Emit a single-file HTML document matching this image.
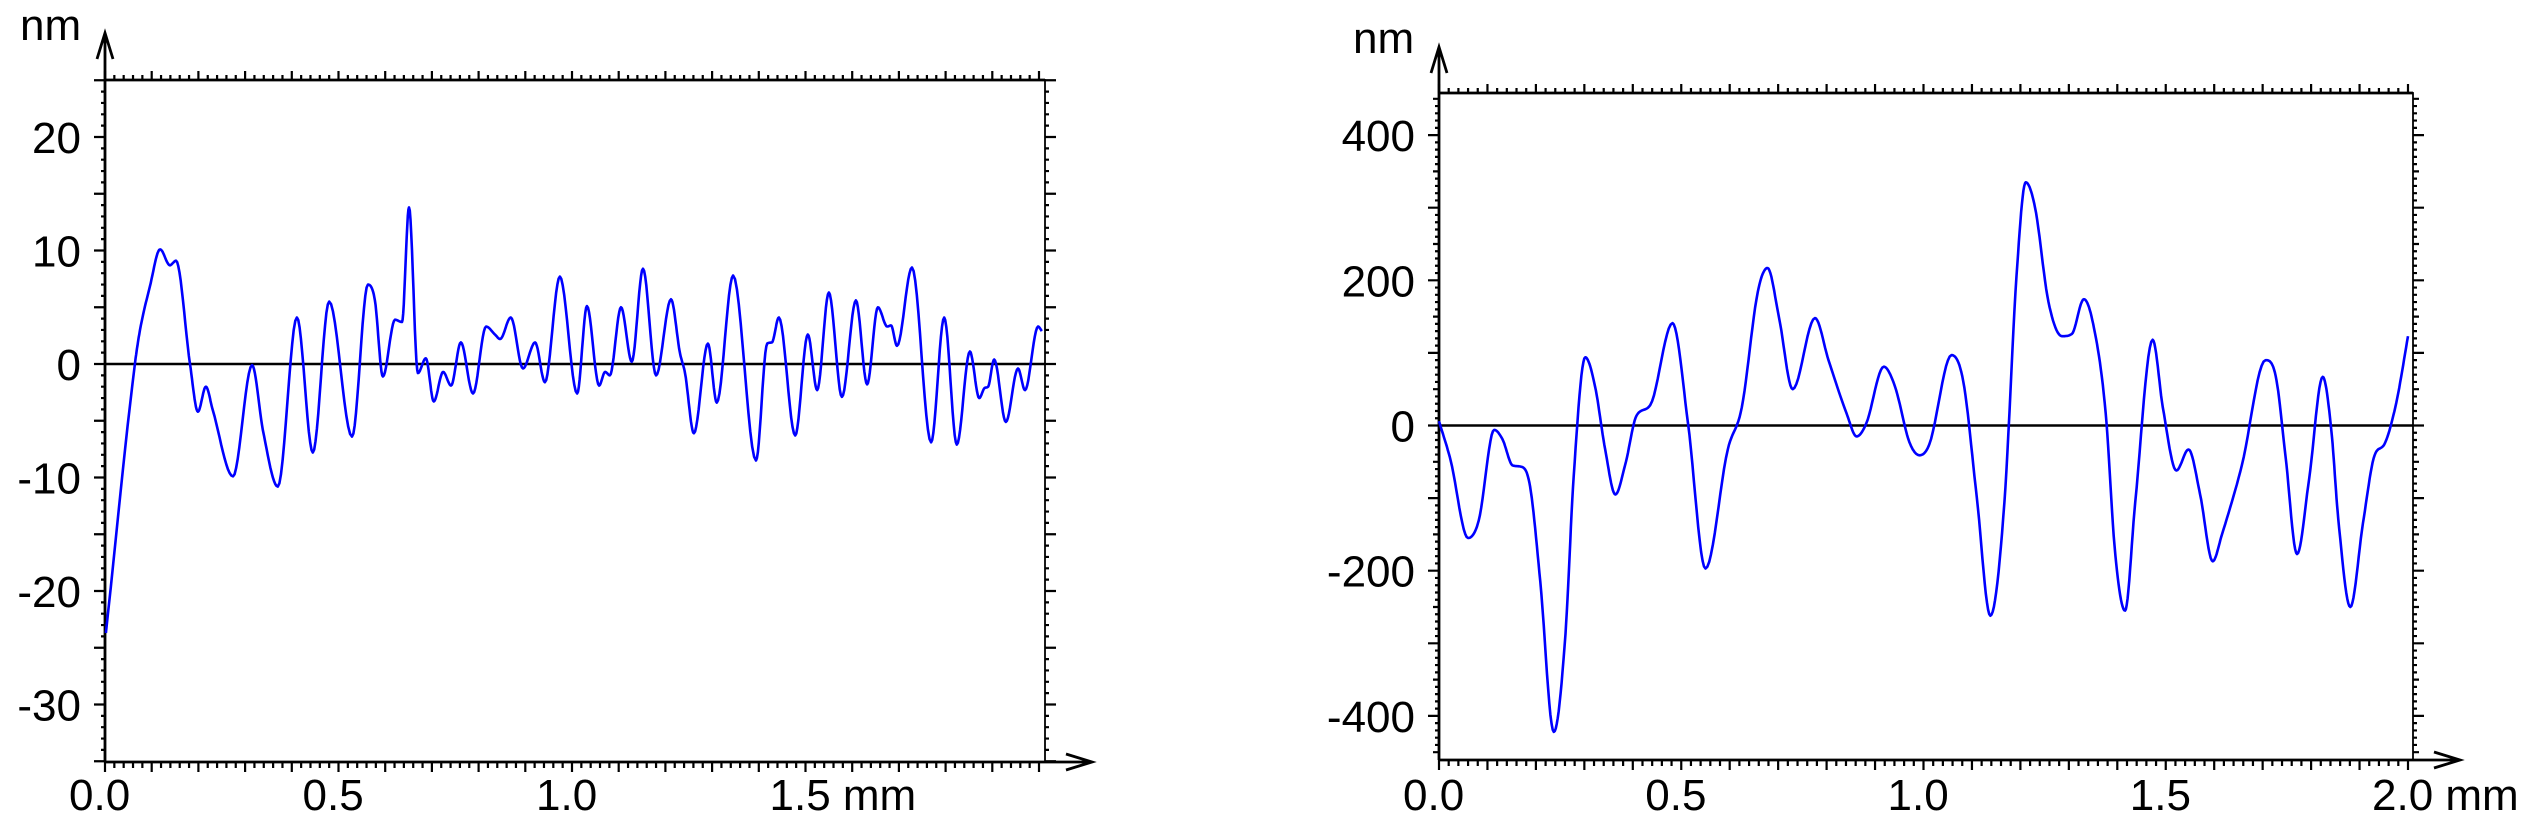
<!DOCTYPE html>
<html><head><meta charset="utf-8"><style>
html,body{margin:0;padding:0;background:#fff;}
svg{display:block;font-family:"Liberation Sans",Arial,sans-serif;}
</style></head><body>
<svg id="root" width="2545" height="830" viewBox="0 0 2545 830" xmlns="http://www.w3.org/2000/svg">
<g id="left"></g>
<g id="right"></g>
</svg>
<script>
// Left profile data (mm, nm)
const leftX = [0.002,0.064,0.075,0.096,0.118,0.139,0.152,0.182,0.199,0.216,0.231,0.274,0.315,0.338,0.370,0.411,0.445,0.480,0.529,0.563,0.578,0.595,0.621,0.636,0.651,0.670,0.687,0.704,0.724,0.741,0.762,0.788,0.816,0.835,0.846,0.869,0.895,0.921,0.942,0.974,1.011,1.032,1.058,1.071,1.081,1.105,1.128,1.152,1.180,1.212,1.231,1.242,1.261,1.291,1.310,1.345,1.394,1.418,1.428,1.443,1.478,1.505,1.525,1.550,1.578,1.608,1.632,1.655,1.675,1.683,1.696,1.728,1.769,1.797,1.824,1.852,1.872,1.884,1.891,1.904,1.929,1.955,1.970,1.998,2.006];
const leftY = [-23.7,0,3.0,6.8,10.1,8.7,9.1,0,-4.2,-2.0,-4.1,-9.9,-0.1,-5.8,-10.8,4.1,-7.8,5.5,-6.4,7.0,5.6,-1.1,3.9,3.7,13.8,-0.8,0.5,-3.3,-0.7,-1.9,1.9,-2.6,3.3,2.6,2.2,4.1,-0.4,1.9,-1.6,7.7,-2.6,5.1,-1.9,-0.7,-1.0,5.0,0.2,8.4,-1.0,5.7,1.0,-0.8,-6.1,1.8,-3.4,7.8,-8.5,1.8,1.9,4.1,-6.3,2.6,-2.3,6.3,-2.9,5.6,-1.8,5.0,3.3,3.4,1.6,8.5,-6.9,4.1,-7.1,1.1,-3.0,-2.1,-2.0,0.4,-5.1,-0.4,-2.3,3.3,2.9];
const leftYTicks = [20,10,0,-10,-20,-30];
const leftXTicks = ["0.0","0.5","1.0","1.5 mm"];
// Right profile data (mm, nm)
const rightX = [0,0.024,0.060,0.082,0.114,0.131,0.152,0.171,0.188,0.209,0.237,0.261,0.278,0.302,0.322,0.343,0.364,0.384,0.408,0.436,0.482,0.514,0.550,0.596,0.625,0.658,0.678,0.702,0.730,0.776,0.804,0.841,0.862,0.882,0.918,0.941,0.971,0.992,1.012,1.058,1.082,1.110,1.138,1.167,1.192,1.211,1.230,1.258,1.286,1.306,1.331,1.352,1.376,1.396,1.416,1.437,1.473,1.494,1.522,1.547,1.571,1.597,1.616,1.657,1.706,1.727,1.747,1.771,1.796,1.824,1.842,1.856,1.881,1.907,1.931,1.951,1.976,2.0];
const rightY = [6,-48,-155,-131,-6,-19,-55,-57,-84,-215,-422,-287,-70,94,54,-33,-95,-55,14,28,141,3,-197,-33,25,184,217,148,50,148,90,17,-15,3,81,54,-23,-41,-26,97,61,-99,-262,-106,206,335,301,170,123,126,174,134,17,-179,-255,-106,118,25,-62,-33,-95,-187,-150,-55,90,68,-41,-177,-73,67,-8,-128,-250,-135,-41,-26,32,123];
const rightYTicks = [400,200,0,-200,-400];
const rightXTicks = ["0.0","0.5","1.0","1.5","2.0 mm"];

const NS="http://www.w3.org/2000/svg";
function mk(tag,attrs,parent){const e=document.createElementNS(NS,tag);for(const k in attrs)e.setAttribute(k,attrs[k]);parent.appendChild(e);return e;}

function monotone(xs,ys){
  const n=xs.length,d=[],m=[];
  for(let i=0;i<n-1;i++)d.push((ys[i+1]-ys[i])/(xs[i+1]-xs[i]));
  m[0]=d[0];m[n-1]=d[n-2];
  for(let i=1;i<n-1;i++){m[i]=(d[i-1]*d[i]<=0)?0:(d[i-1]+d[i])/2;}
  for(let i=0;i<n-1;i++){if(d[i]===0){m[i]=0;m[i+1]=0;continue;}const a=m[i]/d[i],b=m[i+1]/d[i],s=a*a+b*b;if(s>9){const t=3/Math.sqrt(s);m[i]=t*a*d[i];m[i+1]=t*b*d[i];}}
  return m;
}

function chart(g,cfg,xs,ys,yTicks,xLabels){
  const sx=v=>cfg.L+(v-cfg.x0)*cfg.pxmm;
  const sy=v=>cfg.zero-v*cfg.pxnm;
  const fr=mk('rect',{x:cfg.L,y:cfg.T,width:cfg.R-cfg.L,height:cfg.B-cfg.T,fill:'none',stroke:'#000','stroke-width':1.8},g);
  
  
  const ax=mk('path',{d:`M${cfg.L},${cfg.B} H${cfg.arrowX} M${cfg.arrowX-26},${cfg.B-8} L${cfg.arrowX},${cfg.B} L${cfg.arrowX-26},${cfg.B+8} M${cfg.L},${cfg.B} V${cfg.arrowY} M${cfg.L-8},${cfg.arrowY+26} L${cfg.L},${cfg.arrowY} L${cfg.L+8},${cfg.arrowY+26} M${cfg.L},${cfg.T} H${cfg.R}`,fill:'none',stroke:'#000','stroke-width':2.8},g);
  
  
  let d='';
  const nx=Math.round((cfg.xmax)/cfg.xminor);
  for(let i=0;i<=nx;i++){const v=i*cfg.xminor;const x=sx(v);if(x>cfg.R+0.5)break;const major=i%cfg.xmajorEvery===0;const len=major?10:6;d+=`M${x},${cfg.B} V${cfg.B+len} M${x},${cfg.T} V${cfg.T-len+1}`;}
  for(let v=Math.ceil(cfg.ymin/cfg.yminor)*cfg.yminor;v<=cfg.ymax;v+=cfg.yminor){const y=sy(v);const r=Math.round(v/cfg.yminor);const major=r%cfg.ymajorEvery===0;const mid=cfg.ymidEvery&&r%cfg.ymidEvery===0;const len=major?11:(mid?6:4);d+=`M${cfg.L},${y} H${cfg.L-len} M${cfg.R},${y} H${cfg.R+len}`;}
  const tk=mk('path',{d:d,fill:'none',stroke:'#000','stroke-width':2.2},g);
  
  
  const z=mk('line',{x1:cfg.L,x2:cfg.R,y1:sy(0),y2:sy(0),stroke:'#000','stroke-width':2.4},g);
  
  
  yTicks.forEach(v=>{const t=mk('text',{x:cfg.L-24,y:sy(v)+16,'text-anchor':'end','font-size':44},g);t.textContent=String(v);
    
    });
  xLabels.forEach((s,i)=>{const x=sx(i*0.5);const t=mk('text',{x:x-cfg.labOff,y:810,'font-size':44},g);t.textContent=s;
    
    });
  const u=mk('text',{x:cfg.unitX,y:cfg.unitY,'font-size':44},g);u.textContent='nm';
  
  
  const m=monotone(xs,ys);let p=`M${sx(xs[0]).toFixed(1)},${sy(ys[0]).toFixed(1)}`;
  for(let i=0;i<xs.length-1;i++){const h=xs[i+1]-xs[i];
    for(let k=1;k<=12;k++){const t=k/12,t2=t*t,t3=t2*t;
      const y=(2*t3-3*t2+1)*ys[i]+(t3-2*t2+t)*h*m[i]+(-2*t3+3*t2)*ys[i+1]+(t3-t2)*h*m[i+1];
      p+=` L${sx(xs[i]+t*h).toFixed(1)},${sy(y).toFixed(1)}`;}}
  const c=mk('path',{d:p,fill:'none',stroke:'#0000ff','stroke-width':2.6,'stroke-linejoin':'round'},g);
  
  
}
chart(document.getElementById('left'),{L:105,R:1045,T:80,B:762,zero:364,pxnm:11.35,pxmm:467,x0:0,xmax:2.02,xminor:0.02,xmajorEvery:5,ymin:-35,ymax:25,yminor:1,ymajorEvery:5,ymidEvery:0,arrowX:1092,arrowY:33,labOff:36,unitX:20,unitY:40},leftX,leftY,leftYTicks,leftXTicks);
chart(document.getElementById('right'),{L:1439,R:2413,T:93,B:760,zero:425.5,pxnm:0.726,pxmm:484.5,x0:0,xmax:2.02,xminor:0.02,xmajorEvery:5,ymin:-459,ymax:457,yminor:10,ymajorEvery:10,ymidEvery:5,arrowX:2460,arrowY:47,labOff:36,unitX:1353,unitY:53},rightX,rightY,rightYTicks,rightXTicks);
</script>
</body></html>
